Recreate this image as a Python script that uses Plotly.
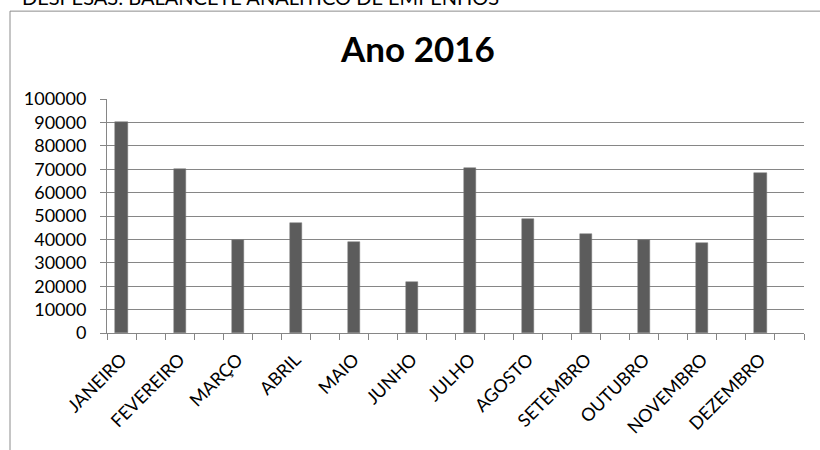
import plotly.graph_objects as go

months = ["JANEIRO", "FEVEREIRO", "MARÇO", "ABRIL", "MAIO", "JUNHO",
          "JULHO", "AGOSTO", "SETEMBRO", "OUTUBRO", "NOVEMBRO", "DEZEMBRO"]
values = [90200, 70300, 39700, 46800, 39100, 22000,
          70500, 48600, 42100, 39700, 38400, 68200]
y_ticks = [0, 10000, 20000, 30000, 40000, 50000, 60000, 70000, 80000, 90000, 100000]
title_text = "Ano 2016"
header_text = "DESPESAS: BALANCETE ANALÍTICO DE EMPENHOS"

W, H = 820, 450
L, R, T, B = 107, 16, 99, 114
FONT = "Lato"

# each month occupies one slot followed by an empty slot (24 slots total)
xpos = [2 * i for i in range(len(months))]

fig = go.Figure(go.Bar(
    x=xpos, y=values, width=0.42,
    marker=dict(color="#5c5c5c", line=dict(color="#7a7a7a", width=0.5)),
    hoverinfo="y",
))

def px_y(Y):
    return (H - B - Y) / (H - T - B)

def px_x(X):
    return (X - L) / (W - L - R)

fig.update_layout(
    width=W, height=H,
    margin=dict(l=L, r=R, t=T, b=B, pad=0),
    paper_bgcolor="white", plot_bgcolor="white",
    font=dict(family=FONT, size=18, color="black"),
    showlegend=False,
    bargap=0,
    title=dict(text="<b>" + title_text + "</b>", x=418 / W, xanchor="center",
               y=1 - 50 / H, yanchor="middle", yref="container",
               font=dict(family=FONT, size=35, color="black")),
    xaxis=dict(
        range=[-0.5, 23.5], tickmode="array", tickvals=xpos, ticktext=months,
        tickangle=-45, ticks="", showgrid=False, zeroline=False,
        showline=True, linecolor="#868686", linewidth=1,
        ticklabelstandoff=8,
        tickfont=dict(family=FONT, size=18, color="black"),
        minor=dict(tickmode="linear", tick0=-0.5, dtick=1, ticks="outside",
                   ticklen=6, tickwidth=1, tickcolor="#868686", showgrid=False),
        fixedrange=True,
    ),
    yaxis=dict(
        range=[0, 100000], tickmode="array", tickvals=y_ticks,
        ticktext=[str(v) for v in y_ticks],
        ticks="outside", ticklen=6, tickwidth=1, tickcolor="#868686",
        showgrid=True, gridcolor="#868686", gridwidth=1, zeroline=False,
        showline=True, linecolor="#868686", linewidth=1,
        ticklabelstandoff=10,
        tickfont=dict(family=FONT, size=18, color="black"),
        fixedrange=True,
    ),
    shapes=[dict(type="rect", xref="paper", yref="paper",
                 x0=px_x(10), x1=px_x(W + 20), y0=px_y(H + 20), y1=px_y(10),
                 line=dict(color="#8c8c8c", width=1), layer="below")],
    annotations=[dict(text=header_text, xref="paper", yref="paper",
                      x=px_x(20), y=px_y(9.5), xanchor="left", yanchor="bottom",
                      showarrow=False, font=dict(family=FONT, size=20, color="black"))],
)

fig.write_html("out.html", config={"displayModeBar": False},
               post_script="document.body.style.margin='0';document.body.style.overflow='hidden';")
